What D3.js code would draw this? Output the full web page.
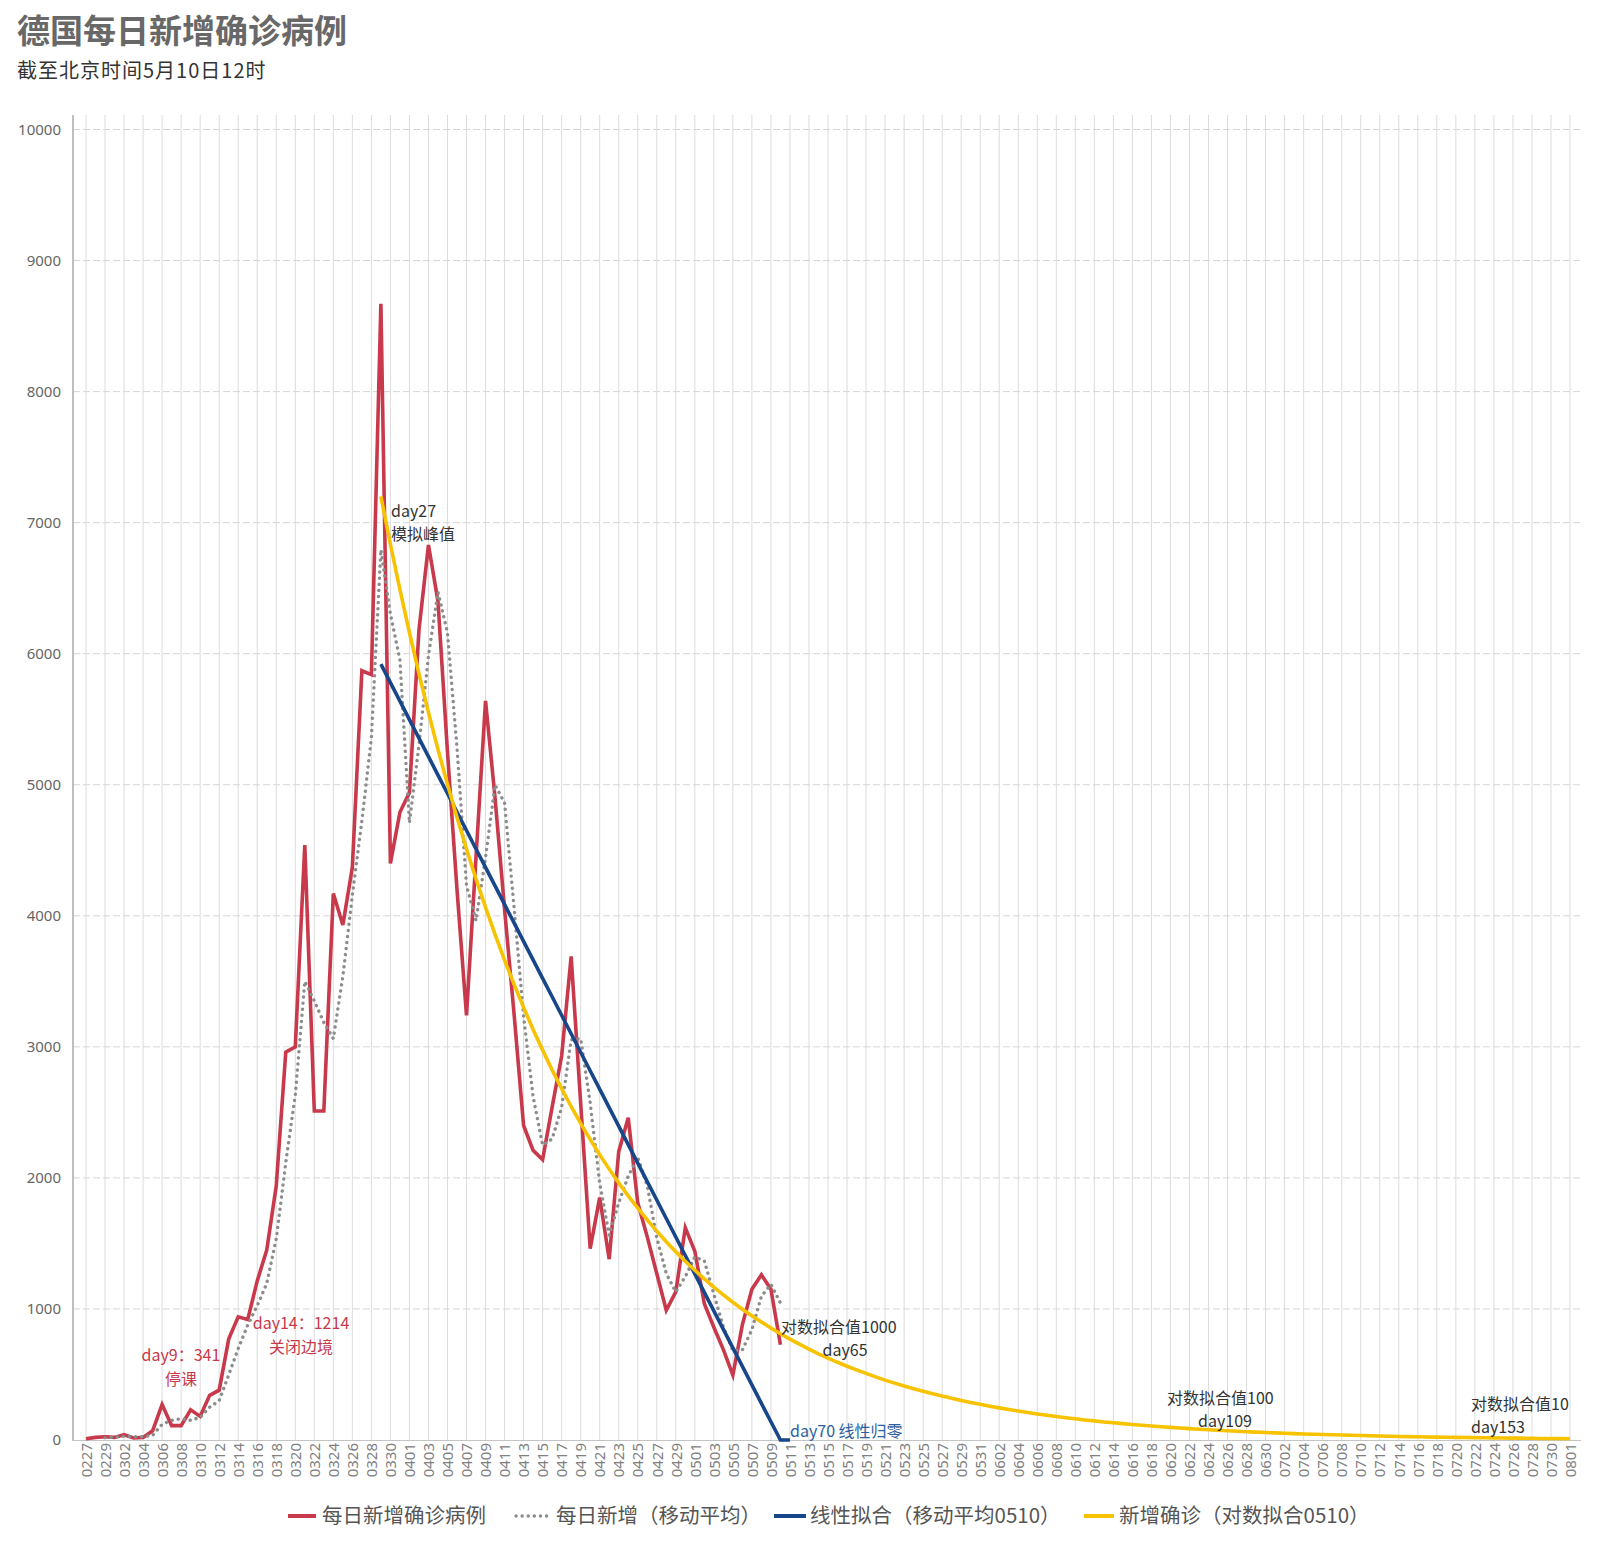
<!DOCTYPE html>
<html><head><meta charset="utf-8">
<script src="https://cdn.jsdelivr.net/npm/d3@7"></script>
<style>
body{margin:0;background:#fff;}
svg{font-family:"Noto Sans CJK SC","Noto Sans",sans-serif;}
</style></head><body>
<svg id="chart" width="1599" height="1545"></svg>
<script>
// ---------- categories ----------
const dates = [
"0227","0228","0229",
"0301","0302","0303","0304","0305","0306","0307","0308","0309","0310","0311","0312","0313","0314","0315","0316","0317","0318","0319","0320","0321","0322","0323","0324","0325","0326","0327","0328","0329","0330","0331",
"0401","0402","0403","0404","0405","0406","0407","0408","0409","0410","0411","0412","0413","0414","0415","0416","0417","0418","0419","0420","0421","0422","0423","0424","0425","0426","0427","0428","0429","0430",
"0501","0502","0503","0504","0505","0506","0507","0508","0509","0510","0511","0512","0513","0514","0515","0516","0517","0518","0519","0520","0521","0522","0523","0524","0525","0526","0527","0528","0529","0530","0531",
"0601","0602","0603","0604","0605","0606","0607","0608","0609","0610","0611","0612","0613","0614","0615","0616","0617","0618","0619","0620","0621","0622","0623","0624","0625","0626","0627","0628","0629","0630",
"0701","0702","0703","0704","0705","0706","0707","0708","0709","0710","0711","0712","0713","0714","0715","0716","0717","0718","0719","0720","0721","0722","0723","0724","0725","0726","0727","0728","0729","0730","0731",
"0801"];
const xTickLabels = dates.filter((d, i) => i % 2 === 0);
const yTicks = [0,1000,2000,3000,4000,5000,6000,7000,8000,9000,10000];

// ---------- series ----------
const dailyStart = "0227";
const dailyNew = [10,20,25,20,40,15,20,70,270,110,110,230,180,341,380,770,940,920,1214,1450,
  1940,2960,3000,4540,2510,2510,4170,3930,4370,5870,5840,8670,4400,4790,4940,6180,6830,6400,5250,4200,
  3240,4450,5640,4900,4050,3250,2400,2210,2140,2540,2930,3690,2570,1460,1850,1380,2200,2460,1810,1550,
  1270,990,1130,1620,1440,1040,860,690,495,880,1150,1260,1150,727];

const movingAvgStart = "0229";
const movingAvg = [18,22,28,25,25,35,120,150,163,150,173,250,300,497,697,877,1025,1195,1535,2117,
  2633,3500,3350,3187,3063,3537,4157,4723,5360,6793,6303,5953,4710,5303,5983,6470,6160,5283,4230,3963,
  4443,4997,4863,4067,3233,2620,2250,2297,2537,3053,3063,2573,1960,1563,1810,2013,2157,1940,1543,1270,
  1130,1247,1397,1367,1113,863,682,688,842,1097,1187,1046];

const linearFitStart = "0329";
const linearFit = [5920,5779,5638,5497,5356,5215,5074,4933,4792,4651,4510,4369,4228,4087,3946,3805,3664,3523,3382,3241,
  3100,2959,2818,2677,2536,2395,2254,2113,1972,1831,1690,1549,1408,1267,1126,985,844,703,562,421,
  280,139,0,0];

const logFitStart = "0329";
const logFit = [7200,6835,6489,6160,5848,5552,5270,5003,4750,4509,4281,4064,3858,3662,3477,3301,3133,2975,2824,2681,
  2545,2416,2294,2177,2067,1962,1863,1769,1679,1594,1513,1436,1364,1295,1229,1167,1108,1051,998,948,
  900,854,811,770,731,694,658,625,593,563,535,508,482,457,434,412,391,372,353,335,
  318,302,286,272,258,245,233,221,210,199,189,179,170,162,153,146,138,131,125,118,
  112,107,101,96,91,87,82,78,74,70,67,63,60,57,54,51,49,46,44,42,
  40,38,36,34,32,30,29,27,26,25,23,22,21,20,19,18,17,16,15,14,
  14,13,12,12,11,10];

const legendItems = ["每日新增确诊病例","每日新增（移动平均）","线性拟合（移动平均0510）","新增确诊（对数拟合0510）"];

// ---------- drawing ----------
const svg = d3.select("#chart");
const C = {red:"#c8394b", gray:"#8c8c8c", blue:"#17468a", yellow:"#f7c200"};
const plotL = 73, plotR = 1581, plotT = 115, plotB = 1440;

const x = d3.scalePoint().domain(dates).range([86, 1570]);
const y = d3.scaleLinear().domain([0, 10000]).range([1440, 129.5]);

function toPts(start, arr){
  const s = dates.indexOf(start);
  return arr.map((v, k) => ({d: dates[s + k], v}));
}

// title
svg.append("text").attr("x",17).attr("y",43).attr("font-size",33).attr("font-weight","bold")
  .attr("fill","#686868").text("德国每日新增确诊病例");
svg.append("text").attr("x",17).attr("y",78).attr("font-size",20).attr("letter-spacing",1).attr("fill","#333")
  .text("截至北京时间5月10日12时");

// vertical grid
svg.append("g").selectAll("line").data(xTickLabels).join("line")
  .attr("x1",d=>x(d)).attr("x2",d=>x(d)).attr("y1",plotT).attr("y2",plotB)
  .attr("stroke","#dcdcdc").attr("stroke-width",1);

// horizontal grid
svg.append("g").selectAll("line").data(yTicks.filter(t=>t>0)).join("line")
  .attr("x1",plotL).attr("x2",plotR).attr("y1",d=>y(d)).attr("y2",d=>y(d))
  .attr("stroke","#d6d6d6").attr("stroke-width",1).attr("stroke-dasharray","7,3");

// y axis
const ya = svg.append("g").attr("transform",`translate(${plotL},0)`)
  .call(d3.axisLeft(y).tickValues(yTicks).tickSize(0).tickPadding(12).tickFormat(d3.format("d")));
ya.select(".domain").remove();
ya.selectAll("text").attr("font-size",15).attr("fill","#666").attr("font-family","'Noto Sans',sans-serif");
svg.append("line").attr("x1",plotL).attr("x2",plotL).attr("y1",plotT).attr("y2",plotB+1)
  .attr("stroke","#aaa").attr("stroke-width",1.5);

// x axis
const xa = svg.append("g").attr("transform",`translate(0,${plotB})`)
  .call(d3.axisBottom(x).tickValues(xTickLabels).tickSize(0));
xa.select(".domain").remove();
xa.selectAll("text").attr("transform","rotate(-90)").attr("x",-3).attr("y",0).attr("dy","0.35em")
  .style("text-anchor","end").attr("font-size",15).attr("fill","#808080").attr("font-family","'Noto Sans',sans-serif");
svg.append("line").attr("x1",plotL).attr("x2",plotR).attr("y1",plotB+0.5).attr("y2",plotB+0.5)
  .attr("stroke","#c4c4c4").attr("stroke-width",1.2);

const line = d3.line().x(p=>x(p.d)).y(p=>y(p.v));

svg.append("path").datum(toPts(dailyStart,dailyNew)).attr("d",line)
  .attr("fill","none").attr("stroke",C.red).attr("stroke-width",3.6).attr("stroke-linejoin","miter");
svg.append("path").datum(toPts(movingAvgStart,movingAvg)).attr("d",line)
  .attr("fill","none").attr("stroke",C.gray).attr("stroke-width",3.4)
  .attr("stroke-dasharray","0.1,6").attr("stroke-linecap","round");
svg.append("path").datum(toPts(linearFitStart,linearFit)).attr("d",line)
  .attr("fill","none").attr("stroke",C.blue).attr("stroke-width",3.6);
svg.append("path").datum(toPts(logFitStart,logFit)).attr("d",line)
  .attr("fill","none").attr("stroke",C.yellow).attr("stroke-width",3.6);

// annotations
const ann = svg.append("g").attr("font-size",16);
function t(xp, yp, s, col, anchor){
  ann.append("text").attr("x",xp).attr("y",yp).attr("fill",col).attr("text-anchor",anchor||"start").text(s);
}
t(181,1361,"day9：341",C.red,"middle");
t(181,1385,"停课",C.red,"middle");
t(301,1329,"day14：1214",C.red,"middle");
t(301,1353,"关闭边境",C.red,"middle");
t(391,517,"day27","#333");
t(391,540,"模拟峰值","#333");
t(781,1333,"对数拟合值1000","#333");
t(845,1356,"day65","#333","middle");
t(790,1437,"day70 线性归零","#2d5f9f");
t(1167,1404,"对数拟合值100","#333");
t(1225,1427,"day109","#333","middle");
t(1471,1410,"对数拟合值10","#333");
t(1471,1433,"day153","#333");

// legend
const lg = svg.append("g");
const legendPos = [{x1:288,x2:316,tx:322},{x1:516,x2:551,tx:556},{x1:774,x2:806,tx:810},{x1:1084,x2:1114,tx:1119}];
const legendStyle = [{c:C.red,dash:null},{c:C.gray,dash:"0.1,6"},{c:C.blue,dash:null},{c:C.yellow,dash:null}];
legendItems.forEach((name,k)=>{
  const p = legendPos[k], st = legendStyle[k];
  const l = lg.append("line").attr("x1",p.x1).attr("x2",p.x2).attr("y1",1516).attr("y2",1516)
    .attr("stroke",st.c).attr("stroke-width",st.dash?3.4:4);
  if (st.dash) l.attr("stroke-dasharray",st.dash).attr("stroke-linecap","round");
  lg.append("text").attr("x",p.tx).attr("y",1523).attr("font-size",20.5).attr("fill","#555").text(name);
});
</script>
</body></html>
